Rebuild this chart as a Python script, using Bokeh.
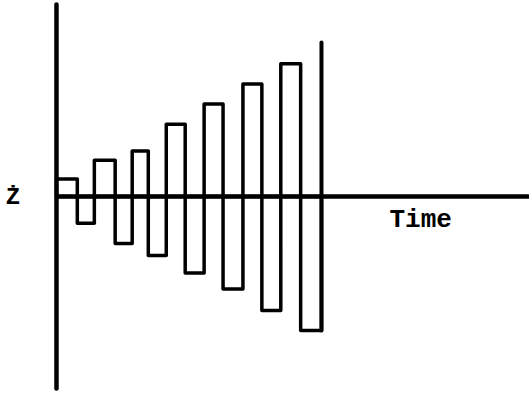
from bokeh.plotting import figure
from bokeh.models import Range1d
from bokeh.embed import file_html
from bokeh.resources import INLINE
from bokeh.core.properties import value

# Pulse edges along the time axis (one unit ~ one pulse width)
time_edges = [0.0, 1.1, 2.0, 3.1, 4.0, 4.85, 5.8, 6.8, 7.8, 8.8, 9.85, 10.85, 11.85, 12.9, 14.0]
# Z-dot amplitude of each pulse, alternating in sign and growing
z_dot = [1.3, -2.0, 2.7, -3.5, 3.4, -4.4, 5.4, -5.7, 6.9, -6.9, 8.4, -8.5, 9.9, -10.0]

# Extents of the hand-drawn axes
z_axis_top = 14.33
z_axis_bottom = -14.33
time_axis_end = 25.0
marker_top = 11.5

x_label = "Time"
y_label = "Ż"

p = figure(width=529, height=394, output_backend="svg", toolbar_location=None,
           x_range=Range1d(-2.958, 24.99), y_range=Range1d(-14.776, 14.627),
           min_border=0, outline_line_color=None)
p.axis.visible = False
p.grid.visible = False
p.background_fill_color = "white"
p.border_fill_color = "white"

ink = "#000000"

# Pulses as open rectangles standing on / hanging from the time axis
lefts = time_edges[:-1]
rights = time_edges[1:]
bottoms = [min(0.0, v) for v in z_dot]
tops = [max(0.0, v) for v in z_dot]
p.quad(left=lefts, right=rights, bottom=bottoms, top=tops,
       fill_color=None, line_color=ink, line_width=3.5, line_join="round")

# Vertical Z-dot axis
p.segment(x0=[0.0], y0=[z_axis_bottom], x1=[0.0], y1=[z_axis_top],
          line_color=ink, line_width=4.5, line_cap="round")
# Horizontal time axis
p.segment(x0=[0.0], y0=[0.0], x1=[time_axis_end], y1=[0.0],
          line_color=ink, line_width=4.5)
# Marker at the end of the pulse train
p.segment(x0=[time_edges[-1]], y0=[z_dot[-1]], x1=[time_edges[-1]], y1=[marker_top],
          line_color=ink, line_width=4, line_cap="round")

# Axis labels
p.text(x=[17.59], y=[-1.72], text=[x_label], text_color=ink,
       text_font=value("Liberation Mono"), text_font_style="bold",
       text_font_size="26px", text_align="left", text_baseline="middle")
p.text(x=[-2.30], y=[-0.08], text=[y_label], text_color=ink,
       text_font=value("Liberation Mono"), text_font_style="bold",
       text_font_size="24px", text_align="center", text_baseline="middle")

open("out.html", "w").write(file_html(p, INLINE))
